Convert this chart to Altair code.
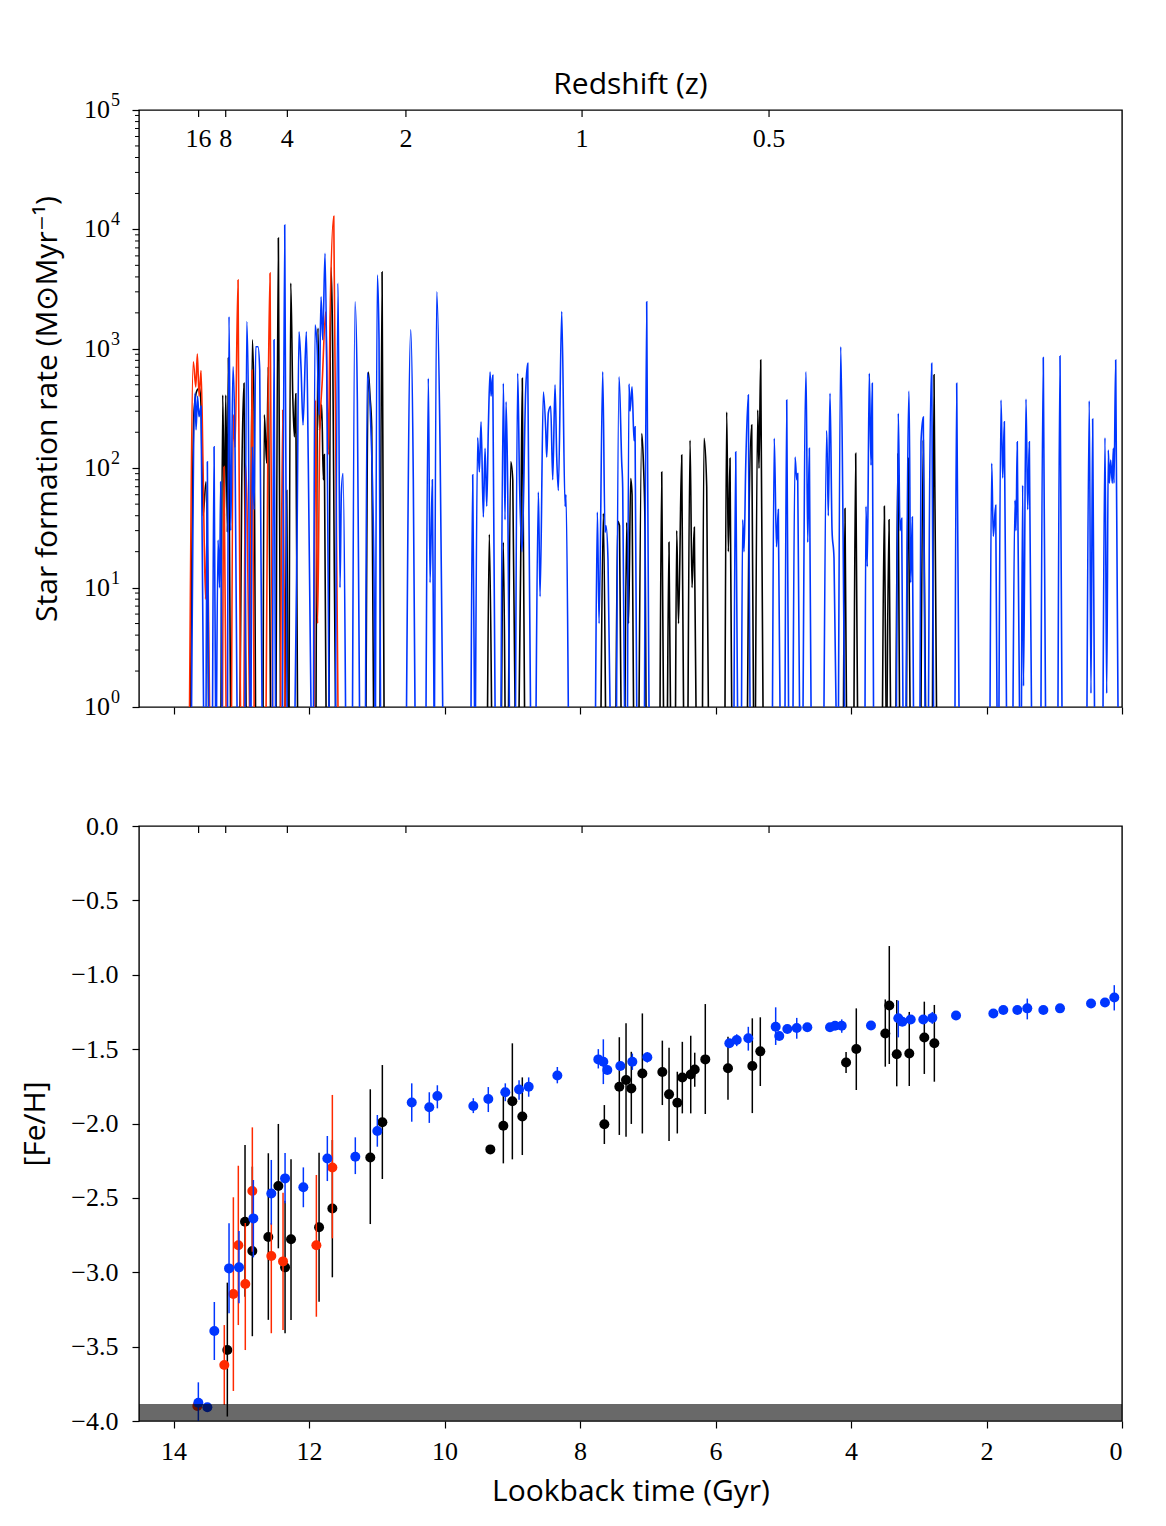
import altair as alt
import pandas as pd

# ---------------- colours / fonts ----------------
BLUE = "#0036ff"
RED = "#ff2a00"
BLACK = "#000000"
SERIF = "Liberation Serif"
SANS = "Open Sans"

W, H1, H2 = 983, 597, 595

# ---------------- axis tick values ----------------
lookback_ticks = [0, 2, 4, 6, 8, 10, 12, 14]
sfr_major = [1, 10, 100, 1000, 10000, 100000]
sfr_major_exp = ["0", "1", "2", "3", "4", "5"]
sfr_minor = [m * 10 ** e for e in range(5) for m in range(2, 10)]
feh_ticks = [-4.0, -3.5, -3.0, -2.5, -2.0, -1.5, -1.0, -0.5, 0.0]

# redshift ticks (label, lookback time in Gyr)
z_labels = ["16", "8", "4", "2", "1", "0.5"]
z_lookback = [13.63, 13.23, 12.32, 10.57, 7.97, 5.21]

# ---------------- star formation histories: bursts of (lookback Gyr, SFR) ----------------
red_bursts = [
    [(13.764, 1), (13.708, 780), (13.672, 480), (13.649, 905), (13.623, 400), (13.594, 656), (13.564, 100), (13.528, 8), (13.505, 30), (13.469, 1)],
    [(13.277, 1), (13.255, 103), (13.225, 1)],
    [(13.144, 1), (13.117, 280), (13.092, 150), (13.048, 3770), (13.012, 1)],
    [(12.960, 1), (12.941, 110), (12.916, 50), (12.879, 1)],
    [(12.871, 1), (12.841, 660), (12.811, 1)],
    [(12.634, 1), (12.605, 280), (12.576, 4300), (12.539, 1)],
    [(12.421, 1), (12.388, 307), (12.354, 1)],
    [(11.926, 1), (11.904, 373), (11.874, 5), (11.842, 190), (11.804, 550), (11.754, 2040), (11.715, 130), (11.690, 1820), (11.635, 12900), (11.573, 1)],
]

black_bursts = [
    [(13.750, 1), (13.698, 300), (13.653, 450), (13.616, 470), (13.594, 330), (13.565, 40), (13.520, 77), (13.483, 1)],
    [(13.299, 1), (13.274, 410), (13.250, 40), (13.229, 410), (13.206, 29), (13.191, 840), (13.159, 1)],
    [(13.019, 1), (12.994, 65), (12.960, 515), (12.930, 1)],
    [(12.871, 1), (12.837, 1190), (12.811, 300), (12.790, 1)],
    [(12.679, 1), (12.660, 280), (12.625, 110), (12.601, 700), (12.569, 1)],
    [(12.487, 1), (12.453, 8470), (12.421, 1)],
    [(12.354, 1), (12.329, 65), (12.310, 1)],
    [(12.295, 1), (12.270, 3550), (12.241, 420), (12.217, 183), (12.196, 420), (12.170, 1)],
    [(11.897, 1), (11.868, 1490), (11.848, 207), (11.813, 340), (11.789, 80), (11.774, 130), (11.749, 1)],
    [(11.705, 1), (11.675, 4840), (11.650, 925), (11.627, 14), (11.609, 1)],
    [(11.159, 1), (11.125, 640), (11.100, 400), (11.075, 220), (11.048, 1)],
    [(10.952, 1), (10.922, 4400), (10.893, 1)],
    [(9.365, 1), (9.339, 28), (9.306, 1)],
    [(9.159, 1), (9.132, 24), (9.107, 1)],
    [(9.055, 1), (9.023, 113), (8.993, 80), (8.959, 1)],
    [(8.900, 1), (8.876, 16), (8.852, 566), (8.819, 1)],
    [(7.690, 1), (7.656, 42), (7.624, 1)],
    [(7.469, 1), (7.444, 36), (7.417, 33), (7.395, 1)],
    [(7.336, 1), (7.311, 35), (7.284, 5), (7.252, 82), (7.232, 60), (7.210, 1)],
    [(7.129, 1), (7.089, 195), (7.065, 113), (7.040, 30), (7.026, 1)],
    [(6.819, 1), (6.794, 93), (6.768, 1)],
    [(6.709, 1), (6.687, 24), (6.665, 1)],
    [(6.590, 1), (6.573, 30), (6.546, 5), (6.499, 129), (6.472, 1)],
    [(6.406, 1), (6.376, 171), (6.347, 10), (6.313, 32), (6.288, 1)],
    [(6.192, 1), (6.170, 178), (6.130, 70), (6.106, 1)],
    [(5.860, 1), (5.835, 296), (5.811, 20), (5.786, 121), (5.761, 1)],
    [(5.528, 1), (5.506, 39), (5.466, 230), (5.439, 1)],
    [(5.410, 1), (5.377, 307), (5.358, 100), (5.333, 805), (5.299, 1)],
    [(4.111, 1), (4.089, 46), (4.067, 1)],
    [(3.956, 1), (3.931, 133), (3.904, 1)],
    [(3.535, 1), (3.508, 48), (3.483, 1)],
    [(3.468, 1), (3.439, 37), (3.417, 1)],
    [(3.336, 1), (3.306, 133), (3.284, 1)],
    [(3.181, 1), (3.154, 121), (3.129, 1)],
    [(2.967, 1), (2.933, 171), (2.900, 1)],
    [(2.797, 1), (2.775, 605), (2.738, 1)],
]

blue_bursts = [
    [(13.734, 1), (13.683, 425), (13.668, 210), (13.646, 400), (13.624, 270), (13.594, 330), (13.557, 1)],
    [(13.520, 1), (13.501, 113), (13.481, 1)],
    [(13.424, 1), (13.402, 151), (13.380, 1)],
    [(13.365, 1), (13.343, 25), (13.321, 10), (13.304, 77), (13.284, 1)],
    [(13.203, 1), (13.181, 1860), (13.156, 30), (13.122, 707), (13.092, 137), (13.063, 1)],
    [(12.945, 1), (12.920, 1690), (12.896, 373), (12.871, 1)],
    [(12.856, 1), (12.837, 151), (12.811, 45), (12.787, 1040), (12.753, 1040), (12.728, 660), (12.694, 1)],
    [(12.539, 1), (12.517, 1190), (12.495, 1)],
    [(12.391, 1), (12.359, 10900), (12.325, 1)],
    [(12.207, 1), (12.177, 27), (12.148, 1390), (12.118, 690), (12.089, 230), (12.040, 1390), (12.011, 110), (11.971, 1)],
    [(11.934, 1), (11.912, 1580), (11.882, 1070), (11.853, 280), (11.823, 2730), (11.798, 1190), (11.764, 6300), (11.739, 700), (11.705, 1)],
    [(11.609, 1), (11.572, 3550), (11.543, 10), (11.523, 62), (11.498, 90), (11.461, 1)],
    [(11.358, 1), (11.321, 2480), (11.287, 373), (11.255, 1)],
    [(11.166, 1), (11.140, 630), (11.090, 240), (11.041, 12), (11.026, 1)],
    [(11.019, 1), (10.992, 4150), (10.967, 1200), (10.945, 1)],
    [(10.561, 1), (10.499, 1440), (10.461, 80), (10.436, 1)],
    [(10.273, 1), (10.239, 566), (10.214, 11), (10.180, 80), (10.155, 1)],
    [(10.148, 1), (10.115, 3000), (10.066, 151), (10.027, 1)],
    [(9.609, 1), (9.584, 88), (9.557, 1)],
    [(9.543, 1), (9.511, 180), (9.486, 93), (9.461, 245), (9.427, 39), (9.402, 147), (9.377, 48), (9.353, 222), (9.328, 640), (9.313, 400), (9.288, 600), (9.254, 1)],
    [(9.166, 1), (9.132, 514), (9.107, 37), (9.092, 360), (9.067, 62), (9.043, 1)],
    [(8.952, 1), (8.920, 624), (8.893, 75), (8.856, 20), (8.802, 450), (8.772, 755), (8.731, 1)],
    [(8.649, 1), (8.615, 63), (8.590, 8.4), (8.541, 435), (8.506, 207), (8.492, 124), (8.468, 290), (8.433, 330), (8.403, 80), (8.369, 500), (8.344, 124), (8.320, 65), (8.270, 2050), (8.221, 48), (8.207, 60), (8.173, 1)],
    [(7.771, 1), (7.744, 43), (7.719, 5), (7.665, 643), (7.631, 29), (7.616, 33), (7.587, 17), (7.557, 1)],
    [(7.461, 1), (7.424, 583), (7.385, 113), (7.370, 68), (7.343, 1)],
    [(7.299, 1), (7.277, 508), (7.262, 300), (7.232, 480), (7.203, 170), (7.188, 222), (7.163, 1)],
    [(7.048, 1), (7.016, 2480), (6.982, 1)],
    [(5.727, 1), (5.702, 137), (5.675, 1)],
    [(5.616, 1), (5.599, 37), (5.579, 20), (5.554, 106), (5.516, 410), (5.491, 1)],
    [(5.159, 1), (5.133, 178), (5.100, 22), (5.073, 45), (5.048, 1)],
    [(4.974, 1), (4.949, 373), (4.922, 1)],
    [(4.856, 1), (4.826, 124), (4.801, 80), (4.787, 90), (4.760, 1)],
    [(4.708, 1), (4.664, 643), (4.639, 24), (4.615, 147), (4.590, 1)],
    [(4.399, 1), (4.359, 207), (4.335, 40), (4.310, 424), (4.280, 30), (4.251, 17.6), (4.221, 1)],
    [(4.185, 1), (4.152, 1040), (4.118, 32), (4.096, 1)],
    [(3.793, 1), (3.779, 48), (3.760, 15), (3.730, 624), (3.705, 106), (3.686, 514), (3.668, 1)],
    [(3.329, 1), (3.302, 288), (3.277, 30), (3.252, 38), (3.233, 1)],
    [(3.188, 1), (3.144, 443), (3.119, 11), (3.095, 39), (3.078, 1)],
    [(2.982, 1), (2.967, 166), (2.933, 268), (2.908, 1)],
    [(2.856, 1), (2.844, 29), (2.809, 755), (2.782, 1)],
    [(2.465, 1), (2.440, 514), (2.406, 1)],
    [(1.948, 1), (1.923, 110), (1.900, 27), (1.864, 49), (1.845, 1)],
    [(1.816, 1), (1.786, 373), (1.761, 83), (1.737, 245), (1.705, 1)],
    [(1.609, 1), (1.580, 54), (1.565, 30), (1.546, 166), (1.513, 1)],
    [(1.484, 1), (1.466, 72), (1.454, 1.5), (1.417, 380), (1.392, 45), (1.368, 166), (1.336, 1)],
    [(1.196, 1), (1.162, 845), (1.129, 1)],
    [(0.945, 1), (0.915, 870), (0.886, 1)],
    [(0.517, 1), (0.483, 366), (0.458, 1.3), (0.433, 258), (0.406, 1)],
    [(0.280, 1), (0.251, 180), (0.226, 1.3), (0.202, 142), (0.187, 75), (0.167, 117), (0.143, 75), (0.128, 147), (0.118, 75), (0.093, 805), (0.059, 1)],
]

# ---------------- [Fe/H] of stars: lookback time, value, error-bar low/high ----------------
red_t = [13.649, 13.251, 13.117, 13.044, 12.941, 12.837, 12.557, 12.384, 11.892, 11.656]
red_feh = [-3.899, -3.624, -3.146, -2.819, -3.079, -2.454, -2.891, -2.927, -2.819, -2.296]
red_lo = [-3.899, -3.892, -3.798, -3.355, -3.523, -2.862, -3.41, -3.388, -3.299, -2.772]
red_hi = [-3.899, -3.355, -2.496, -2.284, -2.669, -2.026, -2.67, -2.465, -2.346, -1.808]

black_t = [13.206, 12.945, 12.837, 12.601, 12.453, 12.354, 12.266, 11.852, 11.656, 11.096, 10.918,
           9.324, 9.132, 8.999, 8.852, 7.641, 7.420, 7.321, 7.243, 7.080, 6.785, 6.686, 6.564,
           6.490, 6.366, 6.307, 6.151, 5.816, 5.457, 5.339, 4.073, 3.922, 3.494, 3.435, 3.325,
           3.140, 2.918, 2.770]
black_feh = [-3.523, -2.660, -2.857, -2.763, -2.420, -2.967, -2.778, -2.698, -2.571, -2.228, -1.992,
             -2.174, -2.015, -1.851, -1.953, -2.005, -1.753, -1.708, -1.764, -1.664, -1.654, -1.804, -1.860,
             -1.691, -1.671, -1.637, -1.569, -1.628, -1.613, -1.515, -1.590, -1.499, -1.395, -1.207, -1.535,
             -1.529, -1.422, -1.461]
black_lo = [-3.97, -3.164, -3.43, -3.32, -2.839, -3.41, -3.321, -3.198, -3.034, -2.676, -2.373,
            -2.174, -2.268, -2.241, -2.212, -2.138, -2.077, -2.089, -2.003, -2.067, -1.876, -2.118, -2.067,
            -1.932, -1.932, -1.753, -1.936, -1.84, -1.93, -1.748, -1.66, -1.775, -1.618, -1.60, -1.75,
            -1.748, -1.667, -1.719]
black_hi = [-3.07, -2.145, -2.29, -2.2, -2.003, -2.52, -2.241, -2.196, -2.111, -1.77, -1.607,
            -2.174, -1.76, -1.461, -1.69, -1.876, -1.42, -1.326, -1.518, -1.26, -1.443, -1.49, -1.652,
            -1.451, -1.41, -1.524, -1.197, -1.417, -1.293, -1.286, -1.52, -1.226, -1.166, -0.807, -1.17,
            -1.25, -1.181, -1.203]

blue_t = [13.634, 13.501, 13.398, 13.181, 13.034, 12.822, 12.557, 12.354, 12.084, 11.730, 11.317,
          10.992, 10.484, 10.225, 10.106, 9.575, 9.354, 9.103, 8.900, 8.758, 8.335, 7.730, 7.656,
          7.597, 7.405, 7.228, 7.007, 5.796, 5.687, 5.516, 5.112, 5.059, 4.940, 4.801, 4.645, 4.310,
          4.236, 4.137, 3.705, 3.302, 3.243, 3.119, 2.933, 2.800, 2.450, 1.899, 1.752, 1.545, 1.398,
          1.161, 0.915, 0.457, 0.251, 0.114]
blue_feh = [-3.877, -3.908, -3.395, -2.974, -2.967, -2.638, -2.470, -2.369, -2.429, -2.235, -2.224,
            -2.050, -1.859, -1.891, -1.815, -1.882, -1.835, -1.790, -1.771, -1.753, -1.677, -1.569, -1.585,
            -1.640, -1.613, -1.585, -1.555, -1.461, -1.439, -1.427, -1.349, -1.412, -1.365, -1.358, -1.353,
            -1.353, -1.343, -1.343, -1.341, -1.293, -1.316, -1.301, -1.301, -1.290, -1.274, -1.260, -1.237,
            -1.237, -1.226, -1.237, -1.226, -1.193, -1.186, -1.153]
blue_lo = [-4.02, -3.908, -3.59, -3.276, -3.209, -2.90, -2.68, -2.536, -2.563, -2.387, -2.34,
           -2.156, -1.988, -1.996, -1.898, -1.93, -1.923, -1.85, -1.84, -1.82, -1.73, -1.63, -1.735,
           -1.640, -1.613, -1.64, -1.59, -1.461, -1.48, -1.51, -1.472, -1.412, -1.365, -1.43, -1.353,
           -1.353, -1.343, -1.39, -1.341, -1.421, -1.316, -1.301, -1.301, -1.33, -1.274, -1.260, -1.237,
           -1.237, -1.30, -1.237, -1.226, -1.193, -1.186, -1.24]
blue_hi = [-3.74, -3.908, -3.20, -2.671, -2.723, -2.38, -2.245, -2.198, -2.295, -2.084, -2.093,
           -1.943, -1.730, -1.790, -1.743, -1.83, -1.755, -1.73, -1.71, -1.69, -1.62, -1.50, -1.434,
           -1.640, -1.613, -1.53, -1.52, -1.461, -1.40, -1.35, -1.219, -1.412, -1.365, -1.29, -1.353,
           -1.353, -1.343, -1.30, -1.341, -1.174, -1.316, -1.301, -1.301, -1.25, -1.274, -1.260, -1.237,
           -1.237, -1.16, -1.237, -1.226, -1.193, -1.186, -1.07]

# shaded floor band in [Fe/H]
band_lo = [-4.0]
band_hi = [-3.886]

# ---------------- data frames ----------------
def bursts_frame(bursts, name):
    rows = []
    for i, b in enumerate(bursts):
        for t, s in b:
            rows.append({"t": t, "sfr": s, "burst": f"{name}{i}"})
    return pd.DataFrame(rows)


def star_frame(t, feh, lo, hi):
    return pd.DataFrame({"t": t, "feh": feh, "lo": lo, "hi": hi})


z_df = pd.DataFrame({"t": z_lookback, "label": z_labels})
minor_df = pd.DataFrame({"sfr": sfr_minor})
major_df = pd.DataFrame({"sfr": sfr_major, "exp": sfr_major_exp})
band_df = pd.DataFrame({"lo": band_lo, "hi": band_hi})

# ---------------- scales & axes ----------------
x_scale = alt.Scale(domain=[0, 14.51], reverse=True, nice=False, zero=False)
y_top_scale = alt.Scale(type="log", domain=[1, 100000], nice=False)
y_bot_scale = alt.Scale(domain=[-4.0, 0.0], nice=False, zero=False)

x_axis_top = alt.Axis(values=lookback_ticks, labels=False, title=None, tickSize=7,
                      grid=False, domain=False)
y_axis_top = alt.Axis(values=sfr_major, labels=False,
                      title="Star formation rate (M\u2299Myr\u207b\u00b9)",
                      tickSize=7, grid=False, domain=False,
                      titleX=-92, titleY=H1 / 2, titleBaseline="middle")
x_axis_bot = alt.Axis(values=lookback_ticks, format="d", title="Lookback time (Gyr)",
                      tickSize=7, grid=False, domain=False, labelPadding=10, titlePadding=12)
y_axis_bot = alt.Axis(values=feh_ticks,
                      labelExpr="replace(format(datum.value, '.1f'), '-', '\u2212')",
                      title="[Fe/H]", tickSize=7, grid=False, domain=False, labelPadding=14,
                      titleX=-104, titleY=H2 / 2, titleBaseline="middle")

# ---------------- top panel ----------------
def sfr_layer(bursts, name, color):
    return alt.Chart(bursts_frame(bursts, name)).mark_line(
        color=color, strokeWidth=1.6, clip=True, interpolate="monotone"
    ).encode(
        x=alt.X("t:Q", scale=x_scale, axis=x_axis_top),
        y=alt.Y("sfr:Q", scale=y_top_scale, axis=y_axis_top),
        detail="burst:N",
        order=alt.Order("t:Q", sort="descending"),
    )


minor_ticks = alt.Chart(minor_df).mark_rule(color="black", strokeWidth=1).encode(
    y=alt.Y("sfr:Q", scale=y_top_scale, axis=y_axis_top),
    x=alt.value(0), x2=alt.value(-4),
)
ylab_base = alt.Chart(major_df).mark_text(
    font=SERIF, fontSize=26, align="right", baseline="middle", color="black"
).encode(
    y=alt.Y("sfr:Q", scale=y_top_scale, axis=y_axis_top),
    x=alt.value(-29), text=alt.value("10"),
)
ylab_exp = alt.Chart(major_df).mark_text(
    font=SERIF, fontSize=18, align="left", baseline="middle", dy=-9, color="black"
).encode(
    y=alt.Y("sfr:Q", scale=y_top_scale, axis=y_axis_top),
    x=alt.value(-28), text="exp:N",
)
z_ticks_top = alt.Chart(z_df).mark_rule(color="black", strokeWidth=1.2).encode(
    x=alt.X("t:Q", scale=x_scale, axis=x_axis_top),
    y=alt.value(0), y2=alt.value(7),
)
z_text = alt.Chart(z_df).mark_text(font=SERIF, fontSize=26, baseline="middle", color="black").encode(
    x=alt.X("t:Q", scale=x_scale, axis=x_axis_top),
    y=alt.value(29),
    text="label:N",
)

top = alt.layer(
    minor_ticks,
    ylab_base,
    ylab_exp,
    sfr_layer(black_bursts, "k", BLACK),
    sfr_layer(red_bursts, "r", RED),
    sfr_layer(blue_bursts, "b", BLUE),
    z_ticks_top,
    z_text,
).properties(
    width=W, height=H1,
    title=alt.TitleParams("Redshift (z)", font=SANS, fontSize=30, fontWeight="normal",
                          anchor="middle", offset=-8, color="black"),
)

# ---------------- bottom panel ----------------
def star_layers(t, feh, lo, hi, color):
    df = star_frame(t, feh, lo, hi)
    bars = alt.Chart(df).mark_rule(color=color, strokeWidth=1.5, clip=True).encode(
        x=alt.X("t:Q", scale=x_scale, axis=x_axis_bot),
        y=alt.Y("lo:Q", scale=y_bot_scale, axis=y_axis_bot),
        y2="hi:Q",
    )
    pts = alt.Chart(df).mark_circle(color=color, size=100, opacity=1).encode(
        x=alt.X("t:Q", scale=x_scale, axis=x_axis_bot),
        y=alt.Y("feh:Q", scale=y_bot_scale, axis=y_axis_bot),
    )
    return [bars, pts]


band = alt.Chart(band_df).mark_rect(color="black", opacity=0.59).encode(
    x=alt.value(0), x2=alt.value(W),
    y=alt.Y("lo:Q", scale=y_bot_scale, axis=y_axis_bot),
    y2="hi:Q",
)
z_ticks_bot = alt.Chart(z_df).mark_rule(color="black", strokeWidth=1.2).encode(
    x=alt.X("t:Q", scale=x_scale, axis=x_axis_bot),
    y=alt.value(0), y2=alt.value(7),
)

bottom = alt.layer(
    *star_layers(black_t, black_feh, black_lo, black_hi, BLACK),
    *star_layers(red_t, red_feh, red_lo, red_hi, RED),
    *star_layers(blue_t, blue_feh, blue_lo, blue_hi, BLUE),
    band,
    z_ticks_bot,
).properties(width=W, height=H2)

chart = alt.vconcat(top, bottom, spacing=91).properties(
    padding={"left": 11, "top": 61, "right": 30, "bottom": 10},
    background="white",
).configure_view(
    stroke="black", strokeWidth=1.4
).configure_axis(
    labelFont=SERIF, labelFontSize=26, labelColor="black",
    titleFont=SANS, titleFontSize=30, titleFontWeight="normal", titleColor="black",
    tickColor="black", tickWidth=1.2,
)

chart.save("out.html", embed_options={"renderer": "svg", "actions": False})
